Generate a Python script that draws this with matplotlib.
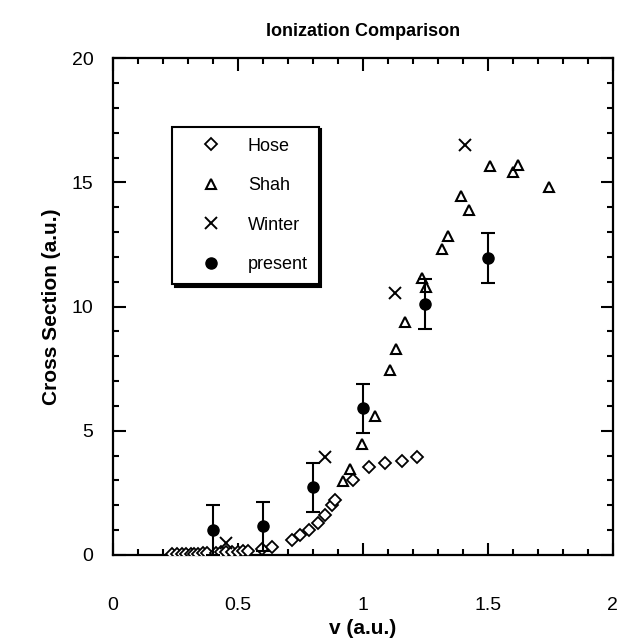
import numpy as np
import matplotlib.pyplot as plt
from matplotlib.lines import Line2D
from matplotlib.ticker import MultipleLocator

plt.rcParams['font.family'] = ['Liberation Sans', 'DejaVu Sans']

# Hose
hose_v = [0.235, 0.255, 0.275, 0.29, 0.31, 0.325, 0.34, 0.36, 0.375, 0.41, 0.43, 0.45,
          0.475, 0.50, 0.52, 0.54, 0.595, 0.635, 0.715, 0.75, 0.785, 0.82, 0.85, 0.875,
          0.89, 0.96, 1.025, 1.09, 1.155, 1.215]
hose_cs = [0.02, 0.03, 0.03, 0.04, 0.04, 0.05, 0.05, 0.06, 0.07, 0.08, 0.1, 0.1,
           0.12, 0.13, 0.15, 0.17, 0.25, 0.33, 0.6, 0.8, 1.0, 1.3, 1.6, 2.0,
           2.2, 3.0, 3.55, 3.72, 3.8, 3.93]

# Shah
shah_v = [0.92, 0.95, 0.995, 1.05, 1.108, 1.132, 1.168, 1.237, 1.252, 1.316, 1.34,
          1.392, 1.425, 1.51, 1.6, 1.62, 1.745]
shah_cs = [2.98, 3.47, 4.45, 5.59, 7.44, 8.28, 9.38, 11.16, 10.8, 12.3, 12.84,
           14.45, 13.9, 15.65, 15.4, 15.7, 14.8]

# Winter
winter_v = [0.45, 0.85, 1.13, 1.41]
winter_cs = [0.5, 3.93, 10.53, 16.5]

# present
present_v = [0.4, 0.6, 0.8, 1.0, 1.25, 1.5]
present_cs = [1.0, 1.15, 2.72, 5.9, 10.1, 11.95]
present_err = [1.0, 1.0, 1.0, 1.0, 1.0, 1.0]

fig = plt.figure(figsize=(6.21, 6.39), dpi=100)
ax = fig.add_axes([0.182, 0.1315, 0.805, 0.7775])

ax.plot(hose_v, hose_cs, 'D', ms=6, mfc='white', mec='black', mew=1.3,
        ls='none', zorder=3)
ax.plot(shah_v, shah_cs, '^', ms=7.5, mfc='none', mec='black', mew=1.5,
        ls='none', zorder=3)
ax.plot(winter_v, winter_cs, 'x', ms=8, mec='black', mew=1.4,
        ls='none', zorder=3)
ax.errorbar(present_v, present_cs, yerr=present_err, fmt='o', ms=8, color='black',
            ecolor='black', elinewidth=1.5, capsize=5, capthick=1.5, zorder=4)

ax.set_xlim(0, 2)
ax.set_ylim(0, 20)
ax.xaxis.set_minor_locator(MultipleLocator(0.1))
ax.yaxis.set_major_locator(MultipleLocator(5))
ax.yaxis.set_minor_locator(MultipleLocator(1))
ax.set_xticks([0, 0.5, 1, 1.5, 2])
ax.set_xticklabels(['0', '0.5', '1', '1.5', '2'])

ax.tick_params(which='both', direction='in', top=True, right=True, width=1.5,
               labelsize=14)
ax.tick_params(which='major', length=9)
ax.tick_params(which='minor', length=4.5)
ax.tick_params(axis='x', which='major', pad=30)
ax.tick_params(axis='y', which='major', pad=14)
for s in ax.spines.values():
    s.set_linewidth(1.6)

ax.set_title('Ionization Comparison', fontsize=13, fontweight='bold', pad=16)
ax.set_xlabel('v (a.u.)', fontsize=15, fontweight='bold', labelpad=4)
ax.set_ylabel('Cross Section (a.u.)', fontsize=15, fontweight='bold', labelpad=8)

handles = [
    Line2D([], [], marker='D', ms=6, mfc='white', mec='black', mew=1.3, ls='none'),
    Line2D([], [], marker='^', ms=7.5, mfc='none', mec='black', mew=1.5, ls='none'),
    Line2D([], [], marker='x', ms=8, mec='black', mew=1.4, ls='none'),
    Line2D([], [], marker='o', ms=8, color='black', ls='none'),
]
labels = ['Hose', 'Shah', 'Winter', 'present']
leg = ax.legend(handles, labels, loc='upper left', bbox_to_anchor=(0.118, 0.862),
                borderaxespad=0, fontsize=13, frameon=True, fancybox=False,
                edgecolor='black', labelspacing=1.25, borderpad=0.6,
                handlelength=3.1, handletextpad=0.5,
                shadow={'color': 'black', 'alpha': 1})
leg.get_frame().set_linewidth(1.5)

fig.savefig('out.png', dpi=100)
